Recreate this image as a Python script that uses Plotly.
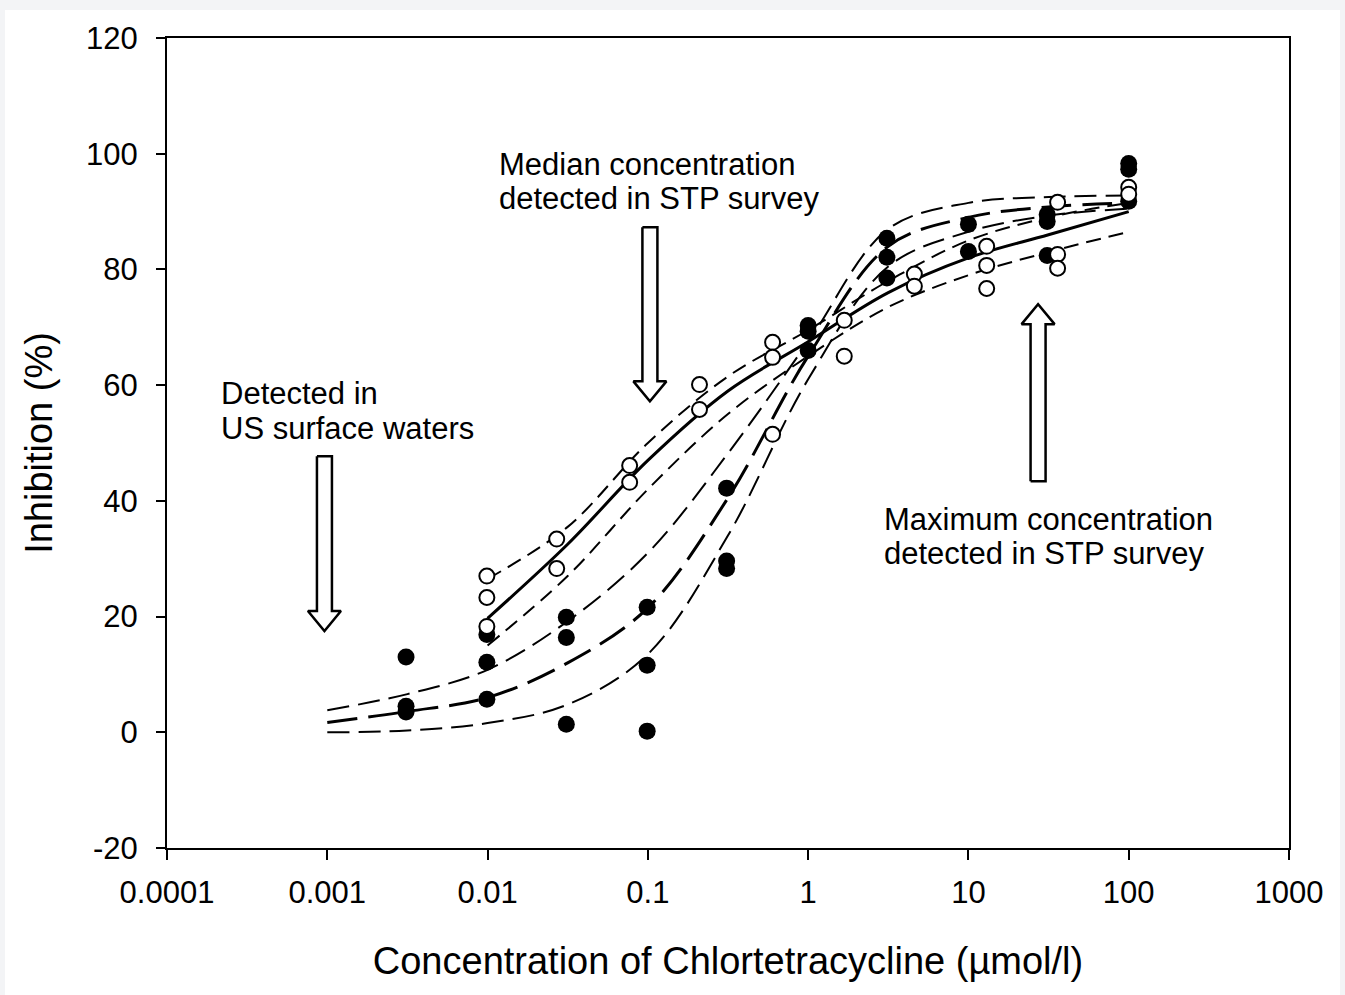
import numpy as np
import plotly.graph_objects as go

# ---- data ----
# filled circles (dataset A)
fx = [0.0031, 0.0031, 0.0031, 0.0099, 0.0099, 0.0099, 0.031, 0.031, 0.031,
      0.099, 0.099, 0.099, 0.31, 0.31, 0.31, 1.0, 1.0, 1.0, 3.1, 3.1, 3.1,
      10, 10, 31, 31, 31, 100, 100, 100]
fy = [13.0, 4.5, 3.5, 16.9, 12.1, 5.7, 19.9, 16.4, 1.4,
      21.6, 11.6, 0.2, 42.2, 29.6, 28.3, 70.3, 69.3, 66.0, 85.4, 82.1, 78.5,
      87.8, 83.1, 89.5, 88.3, 82.4, 98.3, 97.3, 91.8]
# open circles (dataset B)
ox = [0.0099, 0.0099, 0.0099, 0.027, 0.027, 0.077, 0.077, 0.21, 0.21,
      0.6, 0.6, 0.6, 1.68, 1.68, 4.6, 4.6, 13, 13, 13, 36, 36, 36, 100, 100]
oy = [27.0, 23.3, 18.3, 33.4, 28.3, 46.1, 43.2, 60.1, 55.8,
      67.4, 64.8, 51.5, 71.2, 65.0, 79.2, 77.1, 84.0, 80.7, 76.7,
      91.6, 82.6, 80.2, 94.2, 93.0]

# fitted curves and confidence bands, read at half-decade steps
cx_f = [0.001, 0.00316, 0.01, 0.0316, 0.1, 0.316, 1.0, 3.16, 10, 31.6, 100]
fit_f = [1.7, 3.6, 6.0, 12.0, 21.5, 40.5, 65.0, 84.0, 89.0, 90.8, 91.5]
up_f = [3.8, 6.6, 10.8, 19.2, 31.0, 48.2, 67.5, 87.0, 91.5, 92.5, 92.8]
lo_f = [0.0, 0.3, 1.6, 4.8, 13.5, 34.0, 61.0, 80.5, 86.5, 89.3, 90.5]

cx_o = [0.01, 0.0316, 0.1, 0.316, 1.0, 3.16, 10, 31.6, 100]
fit_o = [19.7, 32.5, 47.0, 59.0, 67.5, 76.0, 82.0, 86.0, 90.0]
up_o = [26.5, 35.5, 50.0, 61.5, 69.5, 78.0, 85.0, 89.0, 91.5]
lo_o = [15.0, 27.0, 42.0, 55.0, 65.0, 73.5, 79.0, 83.0, 86.5]

xticks = [0.0001, 0.001, 0.01, 0.1, 1, 10, 100, 1000]
xticklabels = ["0.0001", "0.001", "0.01", "0.1", "1", "10", "100", "1000"]
yticks = [-20, 0, 20, 40, 60, 80, 100, 120]
yticklabels = ["-20", "0", "20", "40", "60", "80", "100", "120"]

# arrows: (centre x, tail y, tip y)
arrows = [(0.00096, 47.7, 17.5), (0.103, 87.3, 57.2), (27.2, 43.4, 74.0)]

# text lines: (left x, centre y, text)
labels = [
    (0.00021, 58.6, "Detected in"),
    (0.00021, 52.5, "US surface waters"),
    (0.0115, 98.2, "Median concentration"),
    (0.0115, 92.3, "detected in STP survey"),
    (2.9, 36.8, "Maximum concentration"),
    (2.9, 30.9, "detected in STP survey"),
]

FONT = "Liberation Sans, Arial, sans-serif"
W, H = 1345, 995
L, R, T, B = 167, 56, 38, 147
PXDEC = (W - L - R) / 7.0
PXY = (H - T - B) / 140.0

fig = go.Figure()

def curve(x, y, dash, width):
    fig.add_trace(go.Scatter(x=x, y=y, mode="lines", line_shape="spline",
                             line=dict(color="black", width=width, dash=dash),
                             hoverinfo="skip", showlegend=False))

curve(cx_f, up_f, "22px,9px", 2)
curve(cx_f, lo_f, "22px,9px", 2)
curve(cx_f, fit_f, "30px,11px", 3)
curve(cx_o, up_o, "15px,8px", 2)
curve(cx_o, lo_o, "15px,8px", 2)
curve(cx_o, fit_o, None, 3)

fig.add_trace(go.Scatter(x=fx, y=fy, mode="markers",
                         marker=dict(symbol="circle", size=17, color="black"),
                         showlegend=False))
fig.add_trace(go.Scatter(x=ox, y=oy, mode="markers",
                         marker=dict(symbol="circle", size=15, color="white",
                                     line=dict(color="black", width=2)),
                         showlegend=False))

# hollow block arrows
def arrow(xc, ytail, ytip):
    lc = np.log10(xc)
    s = 1 if ytip > ytail else -1
    shaft = 7.5 / PXDEC
    head = 16.5 / PXDEC
    hl = 20 / PXY
    ybase = ytip - s * hl
    xs = [lc - shaft, lc - shaft, lc - head, lc, lc + head, lc + shaft, lc + shaft, lc - shaft]
    ys = [ytail, ybase, ybase, ytip, ybase, ybase, ytail, ytail]
    fig.add_trace(go.Scatter(x=[10 ** v for v in xs], y=ys, mode="lines",
                             fill="toself", fillcolor="white",
                             line=dict(color="black", width=2.5),
                             hoverinfo="skip", showlegend=False))

for a in arrows:
    arrow(*a)

for (lx, ly, txt) in labels:
    fig.add_annotation(x=np.log10(lx), y=ly, text=txt, showarrow=False,
                       xanchor="left", yanchor="middle", align="left",
                       font=dict(family=FONT, size=31, color="black"))

fig.update_layout(
    width=W, height=H,
    margin=dict(l=L, r=R, t=T, b=B),
    paper_bgcolor="#f3f4f6", plot_bgcolor="white",
    font=dict(family=FONT, color="black"),
    hovermode=False,
    shapes=[dict(type="rect", xref="paper", yref="paper",
                 x0=(5 - L) / (W - L - R), x1=(1340 - L) / (W - L - R),
                 y0=(H - B - 995) / (H - T - B), y1=(H - B - 10) / (H - T - B),
                 fillcolor="white", line=dict(width=0), layer="below")],
)
fig.update_xaxes(type="log", range=[-4, 3], tickvals=xticks, ticktext=xticklabels,
                 ticks="outside", ticklen=10, tickwidth=2, tickcolor="black",
                 ticklabelstandoff=6,
                 showline=True, linecolor="black", linewidth=2, mirror=True,
                 showgrid=False, zeroline=False,
                 tickfont=dict(family=FONT, size=31, color="black"),
                 title=dict(text="Concentration of Chlortetracycline (µmol/l)",
                            font=dict(family=FONT, size=38, color="black"), standoff=38))
fig.update_yaxes(range=[-20, 120], tickvals=yticks, ticktext=yticklabels,
                 ticks="outside", ticklen=9, tickwidth=2, tickcolor="black",
                 ticklabelstandoff=12,
                 showline=True, linecolor="black", linewidth=2, mirror=True,
                 showgrid=False, zeroline=False,
                 tickfont=dict(family=FONT, size=31, color="black"),
                 title=dict(text="Inhibition (%)",
                            font=dict(family=FONT, size=38, color="black"), standoff=22))

fig.write_html("out.html", config={"displayModeBar": False},
               post_script="document.body.style.margin='0px';"
                           "document.body.style.background='#f3f4f6';")
